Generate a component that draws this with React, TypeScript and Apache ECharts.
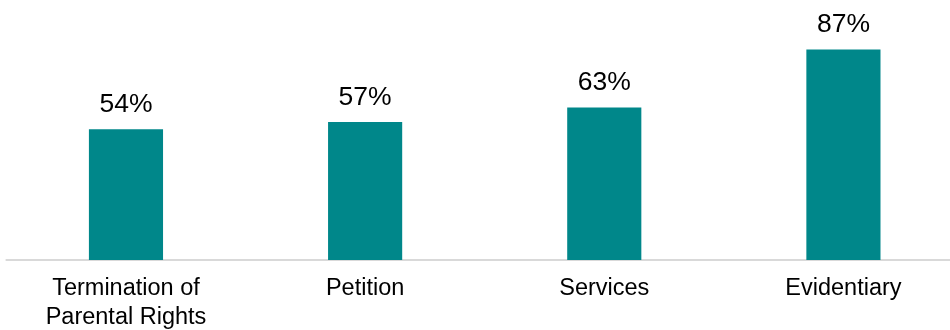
import React, { useEffect, useRef } from "react";
import * as echarts from "echarts";

const categories = ["Termination of\nParental Rights", "Petition", "Services", "Evidentiary"];
const values = [54, 57, 63, 87];

export default function App() {
  const ref = useRef<HTMLDivElement>(null);
  useEffect(() => {
    if (!ref.current) return;
    const chart = echarts.init(ref.current, undefined, { renderer: "svg" });
    chart.setOption({
      animation: false,
      grid: { left: 6.4, right: 0, top: 18, bottom: 66.5, containLabel: false },
      xAxis: {
        type: "category",
        data: categories,
        axisLine: { show: true, lineStyle: { color: "#d9d9d9", width: 2 } },
        axisTick: { show: false },
        axisLabel: {
          color: "#000",
          fontFamily: "Liberation Sans, Arial, sans-serif",
          fontSize: 23.5,
          lineHeight: 29,
          margin: 12,
          interval: 0,
        },
      },
      yAxis: {
        type: "value",
        min: 0,
        max: 100,
        show: false,
        splitLine: { show: false },
      },
      series: [
        {
          type: "bar",
          data: values,
          barWidth: "31%",
          itemStyle: { color: "#00878A" },
          label: {
            show: true,
            position: "top",
            distance: 13,
            formatter: "{c}%",
            color: "#000",
            fontFamily: "Liberation Sans, Arial, sans-serif",
            fontSize: 26.5,
          },
        },
      ],
    });
    return () => chart.dispose();
  }, []);
  return (
    <div style={{ position: "fixed", left: 0, top: 0, width: 950, height: 330, overflow: "hidden" }}>
      <div ref={ref} style={{ width: 963, height: 330 }} />
    </div>
  );
}
